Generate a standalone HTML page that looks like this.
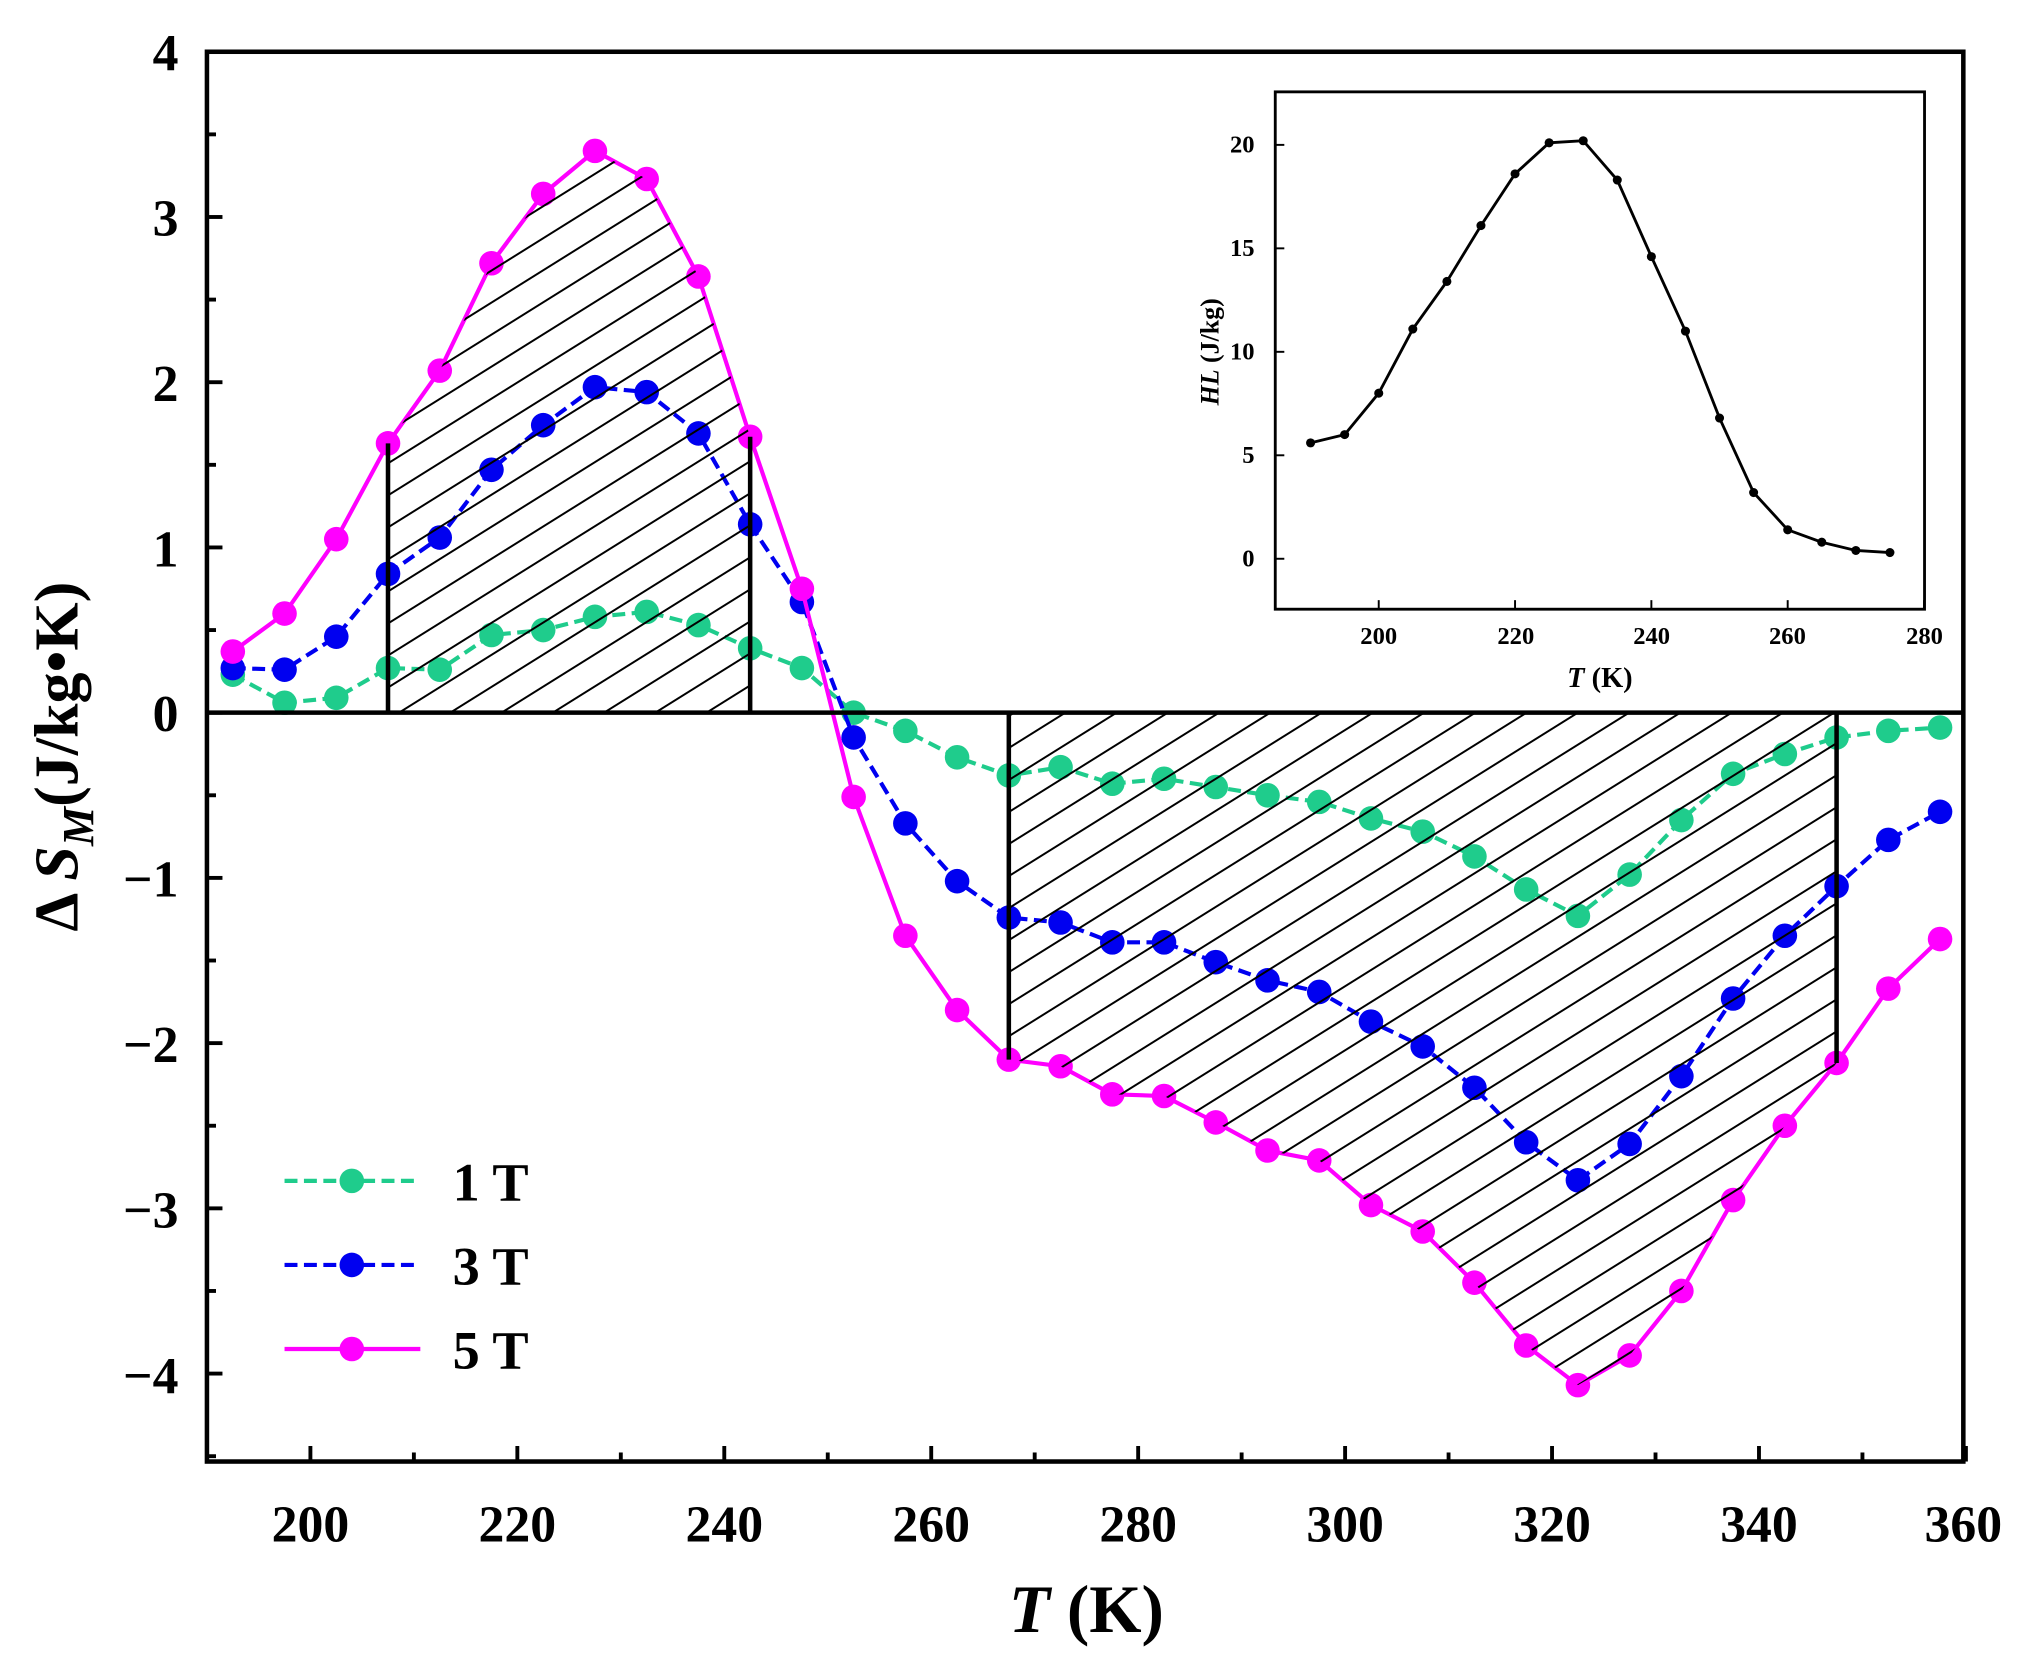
<!DOCTYPE html>
<html><head><meta charset="utf-8"><style>
html,body{margin:0;padding:0;background:#fff;}
svg{display:block;}
text{font-family:"Liberation Serif",serif;font-weight:bold;fill:#000;}
</style></head><body>
<svg id="s" width="2028" height="1665" viewBox="0 0 1568 1287.3" xmlns="http://www.w3.org/2000/svg">
<defs>
<pattern id="hatch" patternUnits="userSpaceOnUse" width="21" height="21" patternTransform="rotate(-32)">
<line x1="-5" y1="0" x2="26" y2="0" stroke="#000" stroke-width="3"/>
</pattern>
</defs>
<g id="series"></g>
<g id="hatchg"></g>
<!-- frame -->
<rect x="160" y="40" width="1358" height="1090" fill="none" stroke="#000" stroke-width="3.5"/>
<line x1="160" y1="551" x2="1518" y2="551" stroke="#000" stroke-width="3.5"/>
<g id="ticks" stroke="#000" stroke-width="3"></g>
<g font-size="40" text-anchor="end">
<text x="138" y="54">4</text>
<text x="138" y="182">3</text>
<text x="138" y="310">2</text>
<text x="138" y="438">1</text>
<text x="138" y="565">0</text>
<text x="138" y="693">−1</text>
<text x="138" y="821">−2</text>
<text x="138" y="949">−3</text>
<text x="138" y="1077">−4</text>
</g>
<g font-size="40" text-anchor="middle">
<text x="240" y="1192">200</text>
<text x="400" y="1192">220</text>
<text x="560" y="1192">240</text>
<text x="720" y="1192">260</text>
<text x="880" y="1192">280</text>
<text x="1040" y="1192">300</text>
<text x="1200" y="1192">320</text>
<text x="1360" y="1192">340</text>
<text x="1518" y="1192">360</text>
</g>
<text x="840" y="1262" font-size="52" text-anchor="middle"><tspan font-style="italic">T</tspan> (K)</text>
<text transform="translate(60,585) rotate(-90)" font-size="48" text-anchor="middle">Δ <tspan font-style="italic">S</tspan><tspan font-style="italic" font-size="34" dy="12">M</tspan><tspan dy="-12">(J/kg•K)</tspan></text>
<g id="legend"></g>
<text x="350" y="928" font-size="42">1 T</text>
<text x="350" y="993" font-size="42">3 T</text>
<text x="350" y="1058" font-size="42">5 T</text>
<!-- inset -->
<rect x="986" y="71" width="502" height="400" fill="#fff" stroke="#000" stroke-width="2.2"/>
<g id="inset"></g>
<g font-size="19" text-anchor="end">
<text x="970" y="438">0</text>
<text x="970" y="358">5</text>
<text x="970" y="278">10</text>
<text x="970" y="198">15</text>
<text x="970" y="118">20</text>
</g>
<g font-size="19" text-anchor="middle">
<text x="1066" y="498">200</text>
<text x="1172" y="498">220</text>
<text x="1277" y="498">240</text>
<text x="1382" y="498">260</text>
<text x="1488" y="498">280</text>
</g>
<text x="1237" y="531" font-size="22" text-anchor="middle"><tspan font-style="italic">T</tspan> (K)</text>
<text transform="translate(942,272) rotate(-90)" font-size="20" text-anchor="middle"><tspan font-style="italic">HL</tspan> (J/kg)</text>
</svg>
<script>
var NS="http://www.w3.org/2000/svg";
function el(p,n,a){var e=document.createElementNS(NS,n);for(var k in a)e.setAttribute(k,a[k]);p.appendChild(e);return e;}
function X(t){return 240+(t-200)*8;}
function Y(v){return 551-v*127.75;}
var T=[];for(var i=0;i<34;i++)T.push(192.5+5*i);
var d1=[0.23,0.06,0.09,0.27,0.26,0.47,0.50,0.58,0.61,0.53,0.39,0.27,0.0,-0.11,-0.27,-0.38,-0.33,-0.43,-0.40,-0.45,-0.50,-0.54,-0.64,-0.72,-0.87,-1.07,-1.23,-0.98,-0.65,-0.37,-0.25,-0.15,-0.11,-0.09];
var d3=[0.27,0.26,0.46,0.84,1.06,1.47,1.74,1.97,1.94,1.69,1.14,0.67,-0.15,-0.67,-1.02,-1.24,-1.27,-1.39,-1.39,-1.51,-1.62,-1.69,-1.87,-2.02,-2.27,-2.60,-2.83,-2.61,-2.20,-1.73,-1.35,-1.05,-0.77,-0.60];
var d5=[0.37,0.60,1.05,1.63,2.07,2.72,3.14,3.40,3.23,2.64,1.67,0.75,-0.51,-1.35,-1.80,-2.10,-2.14,-2.31,-2.32,-2.48,-2.65,-2.71,-2.98,-3.14,-3.45,-3.83,-4.07,-3.89,-3.50,-2.95,-2.50,-2.12,-1.67,-1.37];
var hg=document.getElementById("hatchg");
function region(a,b){var pts=X(T[a])+","+Y(0);for(var i=a;i<=b;i++)pts+=" "+X(T[i])+","+Y(d5[i]);pts+=" "+X(T[b])+","+Y(0);
el(hg,"polygon",{points:pts,fill:"url(#hatch)",stroke:"none"});
el(hg,"line",{x1:X(T[a]),y1:Y(0),x2:X(T[a]),y2:Y(d5[a]),stroke:"#000","stroke-width":3.5});
el(hg,"line",{x1:X(T[b]),y1:Y(0),x2:X(T[b]),y2:Y(d5[b]),stroke:"#000","stroke-width":3.5});}
region(3,10);region(15,31);
var sg=document.getElementById("series");
function series(d,c,dash){var p="";for(var i=0;i<34;i++)p+=(i?" L":"M")+X(T[i])+","+Y(d[i]);
el(sg,"path",{d:p,fill:"none",stroke:c,"stroke-width":3.2,"stroke-dasharray":dash});
for(var i=0;i<34;i++)el(sg,"circle",{cx:X(T[i]),cy:Y(d[i]),r:9.5,fill:c});}
series(d1,"#1fcc8c","10 5");series(d3,"#0000f0","10 5");series(d5,"#ff00ff","none");
var lg=document.getElementById("legend");
[[913,"#1fcc8c","10 5"],[978,"#0000f0","10 5"],[1043,"#ff00ff","none"]].forEach(function(r){
el(lg,"line",{x1:220,y1:r[0],x2:325,y2:r[0],stroke:r[1],"stroke-width":3.2,"stroke-dasharray":r[2]});
el(lg,"circle",{cx:272,cy:r[0],r:9.5,fill:r[1]});});
var tg=document.getElementById("ticks");
for(var v=-4.5;v<=4;v+=0.5){var maj=Math.abs(v-Math.round(v))<1e-6;el(tg,"line",{x1:160,y1:Y(v),x2:160+(maj?12:7),y2:Y(v)});}
for(var t=190;t<=360;t+=10){var maj=t%20==0;el(tg,"line",{x1:X(t),y1:1130,x2:X(t),y2:1130-(maj?12:7)});}
var ig=document.getElementById("inset");
function XI(t){return 1066+(t-200)*5.27;}function YI(v){return 432-v*16;}
var it=[190,195,200,205,210,215,220,225,230,235,240,245,250,255,260,265,270,275];
var iv=[5.6,6.0,8.0,11.1,13.4,16.1,18.6,20.1,20.2,18.3,14.6,11.0,6.8,3.2,1.4,0.8,0.4,0.3];
var p="";for(var i=0;i<it.length;i++)p+=(i?" L":"M")+XI(it[i])+","+YI(iv[i]);
el(ig,"path",{d:p,fill:"none",stroke:"#000","stroke-width":2.2});
for(var i=0;i<it.length;i++)el(ig,"circle",{cx:XI(it[i]),cy:YI(iv[i]),r:3.5,fill:"#000"});
for(var v=0;v<=20;v+=5)el(ig,"line",{x1:986,y1:YI(v),x2:993,y2:YI(v),stroke:"#000","stroke-width":1.5});
for(var t=200;t<=280;t+=20)el(ig,"line",{x1:XI(t),y1:471,x2:XI(t),y2:464,stroke:"#000","stroke-width":1.5});
</script>
</body></html>
